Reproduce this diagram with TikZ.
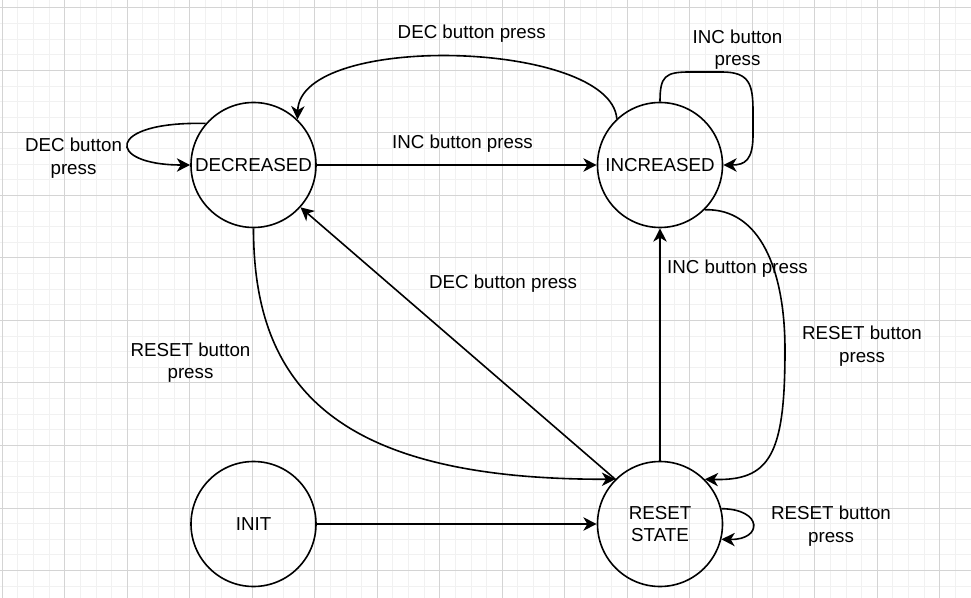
\documentclass[tikz,border=0pt]{standalone}
\usepackage{fontspec}
\setmainfont{Liberation Sans}
\usetikzlibrary{arrows.meta}
\definecolor{gminor}{RGB}{241,241,241}
\definecolor{gmajor}{RGB}{212,212,212}
\begin{document}
\begin{tikzpicture}[x=0.75pt,y=-0.75pt,
  state/.style={circle,draw,line width=1.2pt,minimum size=93.75pt,inner sep=0pt,align=center,font=\fontsize{14.06}{17}\selectfont},
  lbl/.style={align=center,inner sep=0pt,font=\fontsize{14.06}{17}\selectfont},
  edge/.style={line width=1.2pt,-{Stealth[length=10pt,width=10pt,inset=3pt]}},
  gridminor/.style={draw=gminor,line width=0.75pt},
  gridmajor/.style={draw=gmajor,line width=0.75pt}]
\useasboundingbox (0,0) rectangle (971,598);
\fill[white] (0,0) rectangle (971,598);
% grid
\foreach \i in {0,...,63} {\draw[gridminor] ({-13.325+15.625*\i},0) -- ({-13.325+15.625*\i},598);}
\foreach \i in {0,...,39} {\draw[gridminor] (0,{-7.625+15.625*\i}) -- (971,{-7.625+15.625*\i});}
\foreach \i in {0,...,15} {\draw[gridmajor] ({2.3+62.5*\i},0) -- ({2.3+62.5*\i},598);}
\foreach \i in {0,...,9} {\draw[gridmajor] (0,{8+62.5*\i}) -- (971,{8+62.5*\i});}
% states
\node[state] (dec) at (253.5,165) {DECREASED};
\node[state] (inc) at (660,165) {INCREASED};
\node[state] (rst) at (660,524) {RESET\\STATE};
\node[state] (init) at (253.5,524) {INIT};
% edges
\draw[edge] (dec.east) -- (inc.west);
\draw[edge] (inc.133) .. controls (610,40) and (300,32) .. (dec.46);
\draw[edge] (dec.139) .. controls (105,121) and (105,165) .. (dec.west);
\draw[edge] (inc.north) .. controls (660,76) and (665,72) .. (690,72) -- (722,72)
  .. controls (750,72) and (753,85) .. (753,112) -- (753,135)
  .. controls (753,160) and (745,165) .. (inc.east);
\draw[edge] (inc.-45) .. controls (760,208) and (785,270) .. (785,350) .. controls (785,455) and (770,481) .. (rst.45);
\draw[edge] (rst.north) -- (inc.south);
\draw[edge] (rst.135) -- (dec.-42);
\draw[edge] (dec.south) .. controls (253.5,390) and (340,479.8) .. (rst.135);
\draw[edge] (init.east) -- (rst.west);
\draw[edge] (rst.14) .. controls (763,509) and (763,540) .. (rst.-14);
% labels
\node[lbl] (l1) at (471.7,33.5) {DEC button press};
\node[lbl] (l2) at (462.5,144) {INC button press};
\node[lbl] (l3) at (73.5,158) {DEC button\\press};
\node[lbl] (l4) at (737.5,49.5) {INC button\\press};
\node[lbl] (l5) at (737.5,269) {INC button press};
\node[lbl] (l6) at (503,284) {DEC button press};
\node[lbl] (l7) at (862,346) {RESET button\\press};
\node[lbl] (l8) at (190.5,362.5) {RESET button\\press};
\node[lbl] (l9) at (831,526) {RESET button\\press};
\end{tikzpicture}
\end{document}
